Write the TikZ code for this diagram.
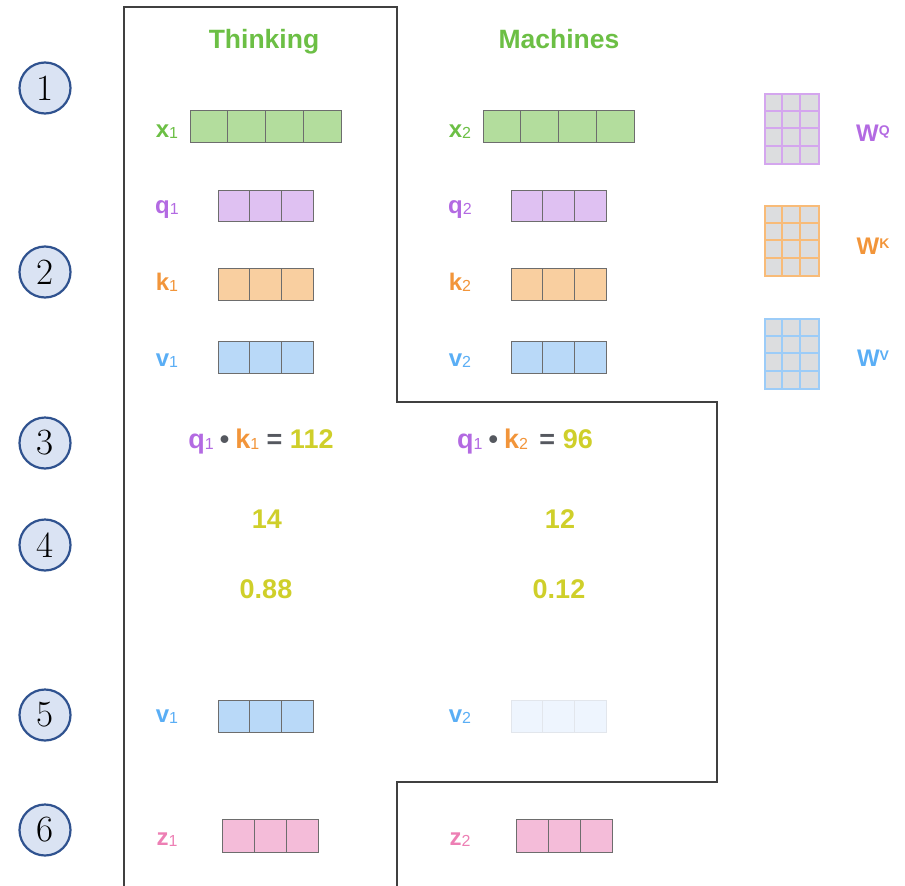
\documentclass[tikz,border=0pt]{standalone}
\usepackage{fontspec}
\newfontfamily\hv{Liberation Sans}
\definecolor{cgreen}{HTML}{6CBF45}
\definecolor{fgreen}{HTML}{B3DD9D}
\definecolor{cpurple}{HTML}{B36AE2}
\definecolor{fpurple}{HTML}{DFC1F2}
\definecolor{corange}{HTML}{F2953A}
\definecolor{forange}{HTML}{F9CFA0}
\definecolor{cblue}{HTML}{5AAEF5}
\definecolor{fblue}{HTML}{B9D9F8}
\definecolor{cpink}{HTML}{ED7FB4}
\definecolor{fpink}{HTML}{F4BCD9}
\definecolor{cyel}{HTML}{CFCF2A}
\definecolor{cgray}{HTML}{55585F}
\definecolor{bgray}{HTML}{6D6D6D}
\definecolor{mgray}{HTML}{DCDDDF}
\definecolor{faintfill}{HTML}{EEF5FE}
\definecolor{faintdraw}{HTML}{E2E6EC}
\definecolor{lpurple}{HTML}{D4A6EE}
\definecolor{lorange}{HTML}{F8BB78}
\definecolor{lblue}{HTML}{9CCCF8}
\definecolor{circfill}{HTML}{DAE3F3}
\definecolor{circdraw}{HTML}{2F528F}
\newcommand\sbs[1]{\raisebox{-1.5pt}{\fontsize{16}{16}\selectfont\mdseries #1}}
\newcommand\sps[1]{\raisebox{6pt}{\fontsize{14}{14}\selectfont\bfseries #1}}
\newcommand\cellrow[8]{%
  \node[draw=#8, fill=#7, line width=1pt, minimum width=#4*#5 pt, minimum height=#6 pt,
        inner sep=0pt, anchor=north west] (#1) at (#2,#3) {};
  \pgfmathtruncatemacro\nmone{#4-1}
  \foreach \i in {1,...,\nmone}
    \draw[#8, line width=1pt] ([xshift=\i*#5 pt]#1.north west) -- ([xshift=\i*#5 pt]#1.south west);
}
\newcommand\wmat[4]{% name, x, y, color
  \node[draw=#4, fill=mgray, line width=2pt, minimum width=54pt, minimum height=70pt,
        inner sep=0pt, anchor=north west] (#1) at (#2,#3) {};
  \foreach \i in {1,2}
    \draw[#4, line width=2pt] ([xshift=\i*18pt]#1.north west) -- ([xshift=\i*18pt]#1.south west);
  \foreach \j in {1,2,3}
    \draw[#4, line width=2pt] ([yshift=-\j*17.5pt]#1.north west) -- ([yshift=-\j*17.5pt]#1.north east);
}
\tikzset{
  stepnum/.style={circle, draw=circdraw, fill=circfill, line width=2.2pt, minimum size=51pt,
    inner sep=0pt, font=\fontsize{37}{37}\selectfont},
  lbl/.style={anchor=base, inner sep=0pt, font=\hv\bfseries\fontsize{24}{24}\selectfont},
  eqn/.style={anchor=base, inner sep=0pt, font=\hv\bfseries\fontsize{27}{27}\selectfont},
  ttl/.style={anchor=base, inner sep=0pt, text=cgreen, font=\hv\bfseries\fontsize{26.5}{26.5}\selectfont},
  num/.style={anchor=base, inner sep=0pt, text=cyel, font=\hv\bfseries\fontsize{27}{27}\selectfont},
  outline/.style={draw=black!75, line width=1.3pt}
}
\begin{document}
\begin{tikzpicture}[x=1pt,y=-1pt]
\useasboundingbox (0,0) rectangle (905,886);
% outline
\coordinate (o1) at (124,886);
\coordinate (o2) at (124,7);
\coordinate (o3) at (397,7);
\coordinate (o4) at (397,402);
\coordinate (o5) at (717,402);
\coordinate (o6) at (717,782);
\coordinate (o7) at (397,782);
\coordinate (o8) at (397,886);
\draw[outline] (o1) -- (o2) -- (o3) -- (o4) -- (o5) -- (o6) -- (o7) -- (o8);
% step circles
\node[stepnum] (s1) at (45,88) {1};
\node[stepnum] (s2) at (45,272) {2};
\node[stepnum] (s3) at (45,443) {3};
\node[stepnum] (s4) at (45,545) {4};
\node[stepnum] (s5) at (45,715) {5};
\node[stepnum] (s6) at (45,830) {6};
% titles
\node[ttl] (t1) at (264,48) {Thinking};
\node[ttl] (t2) at (559,48) {Machines};
% x row
\node[lbl, text=cgreen] (lx1) at (167,137) {x\sbs{1}};
\node[lbl, text=cgreen] (lx2) at (460,137) {x\sbs{2}};
\cellrow{x1}{190}{110}{4}{37.75}{32}{fgreen}{bgray}
\cellrow{x2}{483}{110}{4}{37.75}{32}{fgreen}{bgray}
% q row
\node[lbl, text=cpurple] (lq1) at (167,213) {q\sbs{1}};
\node[lbl, text=cpurple] (lq2) at (460,213) {q\sbs{2}};
\cellrow{q1}{218}{190}{3}{31.7}{31}{fpurple}{bgray}
\cellrow{q2}{511}{190}{3}{31.7}{31}{fpurple}{bgray}
% k row
\node[lbl, text=corange] (lk1) at (167,290) {k\sbs{1}};
\node[lbl, text=corange] (lk2) at (460,290) {k\sbs{2}};
\cellrow{k1}{218}{268}{3}{31.7}{32}{forange}{bgray}
\cellrow{k2}{511}{268}{3}{31.7}{32}{forange}{bgray}
% v row
\node[lbl, text=cblue] (lv1) at (167,366) {v\sbs{1}};
\node[lbl, text=cblue] (lv2) at (460,366) {v\sbs{2}};
\cellrow{v1}{218}{341}{3}{31.7}{32}{fblue}{bgray}
\cellrow{v2}{511}{341}{3}{31.7}{32}{fblue}{bgray}
% weight matrices
\wmat{wq}{764}{93}{lpurple}
\wmat{wk}{764}{205}{lorange}
\wmat{wv}{764}{318}{lblue}
\node[lbl, text=cpurple] (lwq) at (873,141) {W\sps{Q}};
\node[lbl, text=corange] (lwk) at (873,254) {W\sps{K}};
\node[lbl, text=cblue] (lwv) at (873,366) {W\sps{V}};
% step 3
\node[eqn] (sc1) at (261,448) {{\color{cpurple}q\sbs{1}}\hspace{6pt}{\color{cgray}\textbullet}\hspace{6pt}{\color{corange}k\sbs{1}} {\color{cgray}=} {\color{cyel}112}};
\node[eqn] (sc2) at (525,448) {{\color{cpurple}q\sbs{1}}\hspace{6pt}{\color{cgray}\textbullet}\hspace{6pt}{\color{corange}k\sbs{2}}\hspace{4pt} {\color{cgray}=} {\color{cyel}96}};
% step 4
\node[num] (d1) at (267,528) {14};
\node[num] (d2) at (560,528) {12};
\node[num] (p1) at (266,598) {0.88};
\node[num] (p2) at (559,598) {0.12};
% step 5
\node[lbl, text=cblue] (lw1) at (167,722) {v\sbs{1}};
\node[lbl, text=cblue] (lw2) at (460,722) {v\sbs{2}};
\cellrow{w1}{218}{700}{3}{31.7}{32}{fblue}{bgray}
\cellrow{w2}{511}{700}{3}{31.7}{32}{faintfill}{faintdraw}
% step 6
\node[lbl, text=cpink] (lz1) at (167,845) {z\sbs{1}};
\node[lbl, text=cpink] (lz2) at (460,845) {z\sbs{2}};
\cellrow{z1}{222}{819}{3}{32}{33}{fpink}{bgray}
\cellrow{z2}{516}{819}{3}{32}{33}{fpink}{bgray}
\end{tikzpicture}
\end{document}
